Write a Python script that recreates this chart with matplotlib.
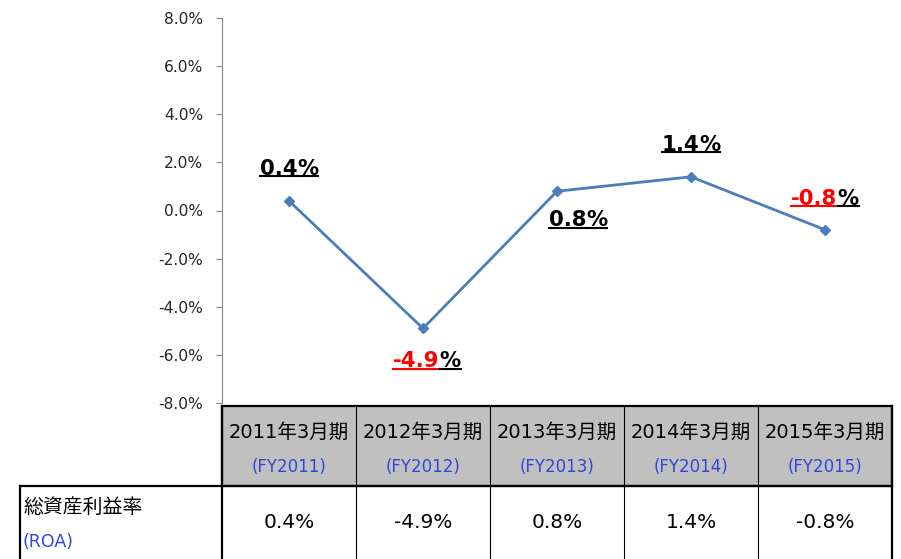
import matplotlib
matplotlib.use('Agg')
import matplotlib.pyplot as plt
from matplotlib.lines import Line2D
from matplotlib.patches import Rectangle
from matplotlib.transforms import IdentityTransform

# data
periods = ['2011年3月期', '2012年3月期', '2013年3月期', '2014年3月期', '2015年3月期']
fiscal = ['(FY2011)', '(FY2012)', '(FY2013)', '(FY2014)', '(FY2015)']
roa = [0.4, -4.9, 0.8, 1.4, -0.8]
row_title = '総資産利益率'
row_sub = '(ROA)'
yticks = [-8, -6, -4, -2, 0, 2, 4, 6, 8]

# label offsets in pixels (x, y) relative to each point
label_off = [(0, 32), (4, -33), (21, -29), (0, 32), (0, 31)]

W, H = 901, 559
TF = ['DejaVu Sans', 'Noto Sans CJK JP']
BLUE = '#2F47D9'
LINE = '#4A7EBB'

fig = plt.figure(figsize=(W / 100, H / 100), dpi=100)

# table layer in pixel coordinates
tax = fig.add_axes([0, 0, 1, 1])
tax.set_xlim(0, W)
tax.set_ylim(H, 0)
tax.axis('off')

# chart axes
x0, x1, ytop, ybot = 222, 892, 18, 403
ax = fig.add_axes([x0 / W, (H - ybot) / H, (x1 - x0) / W, (ybot - ytop) / H])
ax.set_facecolor('none')
ax.plot(range(len(roa)), roa, color=LINE, lw=2, marker='D', ms=5.5, mec=LINE, mfc=LINE)
ax.set_xlim(-0.5, len(roa) - 0.5)
ax.set_ylim(-8, 8)
ax.set_yticks(yticks)
ax.set_yticklabels([f'{v:.1f}%' for v in yticks], fontsize=11.2, color='#262626')
ax.set_xticks([])
for s in ['top', 'right', 'bottom']:
    ax.spines[s].set_visible(False)
ax.spines['left'].set_color('#868686')
ax.tick_params(axis='y', length=4, color='#868686', pad=9.5)

# data labels: number (red if negative) + black %, bold and underlined
pairs = []
for i, v in enumerate(roa):
    col = 'red' if v < 0 else 'black'
    tn = ax.annotate(f'{v:.1f}', xy=(i, v), xytext=label_off[i], textcoords='offset pixels',
                     ha='left', va='center', fontsize=15.3, fontweight='bold', color=col)
    tp = ax.annotate('%', xy=(1, 0), xycoords=tn, ha='left', va='bottom',
                     fontsize=15.3, fontweight='bold', color='black')
    pairs.append((tn, tp, col))

fig.canvas.draw()
r = fig.canvas.get_renderer()
for (tn, tp, col), (dx, dy) in zip(pairs, label_off):
    w = tn.get_window_extent(r).width + tp.get_window_extent(r).width
    tn.xyann = (dx - w / 2, dy)
fig.canvas.draw()
for tn, tp, col in pairs:
    for t, c in ((tn, col), (tp, 'black')):
        bb = t.get_window_extent(r)
        yu = bb.y0 + 0.12 * bb.height
        fig.add_artist(Line2D([bb.x0, bb.x1], [yu, yu], color=c, lw=1.5,
                              transform=IdentityTransform()))

# table
cw = (x1 - x0) / len(periods)
hy0, hy1, dy1 = 406, 486, 560
tax.add_patch(Rectangle((x0, hy0), x1 - x0, hy1 - hy0, fc='#C0C0C0', ec='black', lw=1.6, zorder=1))
for i in range(1, len(periods)):
    xx = x0 + i * cw
    tax.plot([xx, xx], [hy0, dy1], color='black', lw=0.8, zorder=2)
tax.plot([20, x1], [hy1, hy1], color='black', lw=1.6, zorder=3)
tax.plot([20, 20], [hy1, dy1], color='black', lw=1.6, zorder=3)
tax.plot([x0, x0], [hy0, dy1], color='black', lw=1.6, zorder=3)
tax.plot([x1, x1], [hy0, dy1], color='black', lw=1.6, zorder=3)

for i in range(len(periods)):
    cx = x0 + (i + 0.5) * cw
    tax.text(cx, 432, periods[i], ha='center', va='center', fontsize=14, family=TF, color='black')
    tax.text(cx, 467, fiscal[i], ha='center', va='center', fontsize=12, family=TF, color=BLUE)
    tax.text(cx, 522, f'{roa[i]:.1f}%', ha='center', va='center', fontsize=14.5, family=TF, color='black')
tax.text(23, 507, row_title, ha='left', va='center', fontsize=14.3, family=TF, color='black')
tax.text(23, 542, row_sub, ha='left', va='center', fontsize=12.5, family=TF, color=BLUE)

fig.savefig('out.png', dpi=100)
